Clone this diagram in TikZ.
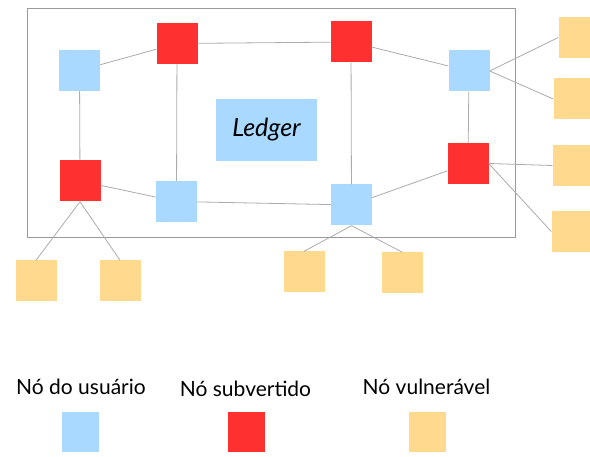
\documentclass[tikz,border=0pt]{standalone}
\usepackage{fontspec}
\setmainfont{Lato}
\definecolor{userblue}{HTML}{A9D9FF}
\definecolor{subred}{HTML}{FF3030}
\definecolor{vulnorange}{HTML}{FFD98D}
\definecolor{linkgray}{HTML}{ABABAB}
\tikzset{ u/.style = { rectangle
                       , fill         = userblue
                       , inner sep    = 0pt
                       , minimum size = 41pt
                       },
          s/.style = { u
                       , fill = subred
                       },
          w/.style = { u
                       , fill = vulnorange
                       },
          link/.style = { draw = linkgray
                       , line width = 0.8pt
                       }
        }
\begin{document}
\begin{tikzpicture}[x=1pt, y=-1pt, font=\fontsize{21}{24}\selectfont]
          \useasboundingbox (0,0) rectangle (590,457);
          \draw[draw=linkgray!90!black, line width=0.9pt] (27,8) rectangle (515,237);
          \foreach \n/\x/\y in {u1/79.5/70.5, u2/176.5/201.5, u3/351.5/205, u4/469/71} {
            \node[u] (\n) at (\x,\y) {};
          }
          \foreach \n/\x/\y in {s1/177/43.5, s2/80/181, s3/351/42, s4/468/163.5} {
            \node[s] (\n) at (\x,\y) {};
          }
          \foreach \n/\x/\y in {w1/36/281, w2/120/281, w3/304/272, w4/402.5/273,
                                w5/579/37.5, w6/574/99, w7/573/165.5, w8/572/231.5} {
            \node[w] (\n) at (\x,\y) {};
          }
          \node[u, minimum width=101pt, minimum height=62pt, font=\fontsize{25}{28}\selectfont\itshape]
               (ledger) at (266.5,130) {Ledger};
          \draw[link] (u1)--(s1)  (u1)--(s2)  (s1)--(u2)  (s2)--(u2)  (u2)--(u3)
                 (s1)--(s3)  (s3)--(u3)  (s3)--(u4)  (u4)--(s4)  (u3)--(s4);
          \draw[link] (s2.south)--(w1.north)  (s2.south)--(w2.north)
                 (u3.south)--(w3.north)  (u3.south)--(w4.north)
                 (u4.east)--(w5.west)  (u4.east)--(w6.west)
                 (s4.east)--(w7.west)  (s4.east)--(w8.west);
          \foreach \n/\t/\x/\y in {ku/Nó do usuário/81/387, ks/Nó subvertido/245.5/389,
                                   kw/Nó vulnerável/426.5/387} {
            \node (\n) at (\x,\y) {\t};
          }
          \node[u, minimum width=37pt, minimum height=40pt] (lu) at (80.5,432) {};
          \node[s, minimum width=37pt, minimum height=40pt] (ls) at (246,432) {};
          \node[w, minimum width=37pt, minimum height=40pt] (lw) at (427,432) {};
        \end{tikzpicture}
\end{document}
